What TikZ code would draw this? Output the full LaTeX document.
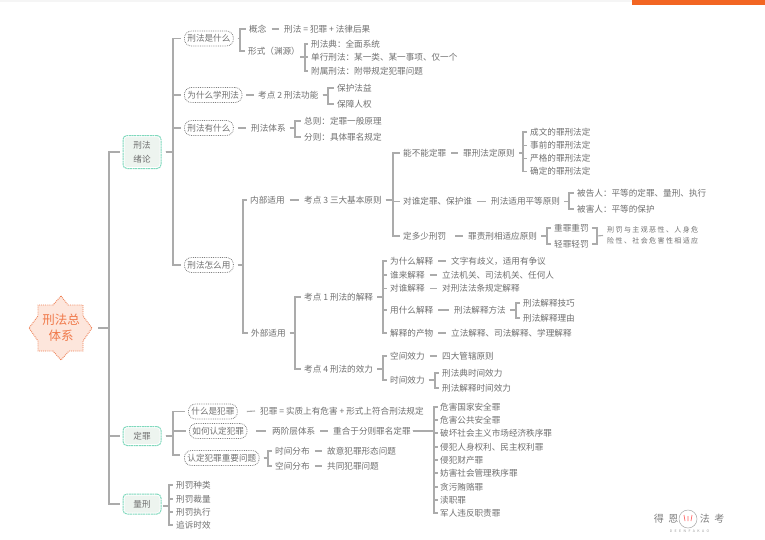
\documentclass[tikz,border=0pt]{standalone}
\usepackage{fontspec}
\setmainfont{Noto Sans CJK SC}
\definecolor{txt}{HTML}{707070}
\definecolor{conn}{HTML}{ABABAB}
\definecolor{rootfill}{HTML}{FDE6DC}
\definecolor{rootline}{HTML}{EE8055}
\definecolor{roottxt}{HTML}{F0794A}
\definecolor{gline}{HTML}{7FD8BC}
\definecolor{gfill}{HTML}{EDF4EF}
\definecolor{topbar}{HTML}{F26522}
\tikzset{
 lbl/.style={anchor=west,inner sep=0pt,text=txt,font=\fontsize{8.6}{10}\selectfont,text height=7.4pt,text depth=1.2pt},
 pill/.style={lbl,draw=black!50,densely dotted,line width=.8pt,rounded corners=7pt,inner xsep=3pt,minimum height=15pt,text height=7.4pt},
 gbox/.style={anchor=center,inner sep=0pt,align=center,text=txt,font=\fontsize{8.6}{14}\selectfont,draw=gline,line width=1pt,dash pattern=on 2pt off .6pt,rounded corners=4pt,preaction={fill=gfill},preaction={draw=white,solid,line width=3pt},minimum width=38pt},
 rootlbl/.style={anchor=center,inner sep=0pt,align=center,text=roottxt,font=\fontsize{12.5}{16}\selectfont},
 link/.style={draw=conn,line width=1.1pt},
}
\newcommand{\tn}[4]{\node[lbl] (#1) at (#2,#3) {#4};}
\newcommand{\pn}[4]{\node[pill] (#1) at (#2,#3) {#4};}
% parent, child, spine x
\newcommand{\brk}[3]{\draw[link] ([xshift=4pt]#1.east) -- (#3,0 |- #1.east) |- ([xshift=-3pt]#2.west);}
\newcommand{\dsh}[2]{\draw[link] ([xshift=5pt]#1.east) -- ([xshift=-5pt]#2.west);}
\begin{document}
\begin{tikzpicture}[x=1pt,y=-1pt]
\useasboundingbox (0,0) rectangle (765,539);
\fill[white] (0,0) rectangle (765,539);
\fill[black!4] (0,0) rectangle (632,2);
\fill[topbar] (632,0) rectangle (765,5);
% root
\fill[rootfill] (61,296)--(68,305)--(83,305)--(83,316)--(92,328)--(83,341)--(83,351)--(69,351)--(61,360)--(53,351)--(38,351)--(38,341)--(29,328)--(38,316)--(38,305)--(53,305)--cycle;
\draw[rootline,densely dotted,line width=.9pt] (61,296)--(68,305)--(83,305)--(83,316)--(92,328)--(83,341)--(83,351)--(69,351)--(61,360)--(53,351)--(38,351)--(38,341)--(29,328)--(38,316)--(38,305)--(53,305)--cycle;
\node[rootlbl] (root) at (61,328) {刑法总\\体系};
\coordinate (rootR) at (94,328);
% level 1
\node[gbox,minimum height=33pt] (xl) at (142,152) {刑法\\绪论};
\node[gbox,minimum height=19pt] (dz) at (142,436) {定罪};
\node[gbox,minimum height=20pt] (lx) at (142,504) {量刑};
\brk{rootR}{xl}{109}\brk{rootR}{dz}{109}\brk{rootR}{lx}{109}
% branch A
\pn{a1}{184}{38.5}{刑法是什么}
\pn{a2}{184}{95}{为什么学刑法}
\pn{a3}{184}{128}{刑法有什么}
\pn{a4}{184}{265}{刑法怎么用}
\brk{xl}{a1}{173}\brk{xl}{a2}{173}\brk{xl}{a3}{173}\brk{xl}{a4}{173}
% a1
\tn{gn}{249}{29}{概念}
\tn{gnv}{284}{29}{刑法 = 犯罪 + 法律后果}
\dsh{gn}{gnv}
\tn{xs}{248}{51}{形式（渊源）}
\brk{a1}{gn}{240}\brk{a1}{xs}{240}
\coordinate (xsR) at (296,57);
\tn{xs1}{311}{44}{刑法典：全面系统}
\tn{xs2}{311}{57}{单行刑法：某一类、某一事项、仅一个}
\tn{xs3}{311}{71}{附属刑法：附带规定犯罪问题}
\brk{xsR}{xs1}{305}\brk{xsR}{xs2}{305}\brk{xsR}{xs3}{305}
% a2
\tn{kd2}{258}{95}{考点 2 刑法功能}
\draw[link] ([xshift=4pt]a2.east) -- ([xshift=-4pt]kd2.west);
\tn{bh1}{337}{88}{保护法益}
\tn{bh2}{337}{104}{保障人权}
\brk{kd2}{bh1}{328}\brk{kd2}{bh2}{328}
% a3
\tn{tx}{251}{128}{刑法体系}
\draw[link] ([xshift=4pt]a3.east) -- ([xshift=-5pt]tx.west);
\tn{zz}{304}{121}{总则：定罪一般原理}
\tn{fz}{304}{137}{分则：具体罪名规定}
\brk{tx}{zz}{295}\brk{tx}{fz}{295}
% a4
\tn{nb}{250}{200}{内部适用}
\tn{wb}{251}{333}{外部适用}
\brk{a4}{nb}{243}\brk{a4}{wb}{243}
\tn{kd3}{304}{200}{考点 3 三大基本原则}
\dsh{nb}{kd3}
\tn{n1}{403}{153}{能不能定罪}
\tn{n2}{403}{201.5}{对谁定罪、保护谁}
\tn{n3}{403}{236}{定多少刑罚}
\brk{kd3}{n1}{393}\brk{kd3}{n2}{393}\brk{kd3}{n3}{393}
\tn{n1a}{463}{153}{罪刑法定原则}
\dsh{n1}{n1a}
\tn{c1}{530}{132}{成文的罪刑法定}
\tn{c2}{530}{145.5}{事前的罪刑法定}
\tn{c3}{530}{158.5}{严格的罪刑法定}
\tn{c4}{530}{171.5}{确定的罪刑法定}
\brk{n1a}{c1}{523}\brk{n1a}{c2}{523}\brk{n1a}{c3}{523}\brk{n1a}{c4}{523}
\tn{n2a}{491}{201.5}{刑法适用平等原则}
\dsh{n2}{n2a}
\tn{p1}{577}{193}{被告人：平等的定罪、量刑、执行}
\tn{p2}{577}{209}{被害人：平等的保护}
\brk{n2a}{p1}{569}\brk{n2a}{p2}{569}
\tn{n3a}{468}{236}{罪责刑相适应原则}
\draw[link] ([xshift=9pt]n3.east) -- ([xshift=-5pt]n3a.west);
\tn{z1}{554}{228}{重罪重罚}
\tn{z2}{554}{244}{轻罪轻罚}
\brk{n3a}{z1}{547}\brk{n3a}{z2}{547}
\node[lbl,font=\fontsize{7}{11}\selectfont\addfontfeature{LetterSpace=20},align=left,text height=,text depth=] (zn) at (607,235.5) {刑罚与主观恶性、人身危\\险性、社会危害性相适应};
\coordinate (zj) at (597,236);
\draw[link] ([xshift=3pt]z1.east) -| (zj) |- ([xshift=3pt]z2.east);
\draw[link] (zj) -- ([xshift=-4pt]zn.west);
% external
\tn{kd1}{304}{297}{考点 1 刑法的解释}
\tn{kd4}{304}{369}{考点 4 刑法的效力}
\brk{wb}{kd1}{295}\brk{wb}{kd4}{295}
\tn{j1}{390}{261}{为什么解释}
\tn{j2}{390}{275}{谁来解释}
\tn{j3}{390}{288.5}{对谁解释}
\tn{j4}{390}{310}{用什么解释}
\tn{j5}{390}{333}{解释的产物}
\brk{kd1}{j1}{383}\brk{kd1}{j2}{383}\brk{kd1}{j3}{383}\brk{kd1}{j4}{383}\brk{kd1}{j5}{383}
\tn{j1a}{451}{261}{文字有歧义，适用有争议}\dsh{j1}{j1a}
\tn{j2a}{442}{275}{立法机关、司法机关、任何人}\dsh{j2}{j2a}
\tn{j3a}{442}{288.5}{对刑法法条规定解释}\dsh{j3}{j3a}
\tn{j4a}{454}{310}{刑法解释方法}\dsh{j4}{j4a}
\tn{j5a}{451}{333}{立法解释、司法解释、学理解释}\dsh{j5}{j5a}
\tn{m1}{523}{303}{刑法解释技巧}
\tn{m2}{523}{318}{刑法解释理由}
\brk{j4a}{m1}{516}\brk{j4a}{m2}{516}
\tn{x1}{390}{356}{空间效力}
\tn{x2}{390}{380}{时间效力}
\brk{kd4}{x1}{383}\brk{kd4}{x2}{383}
\tn{x1a}{442}{356}{四大管辖原则}\dsh{x1}{x1a}
\tn{t1}{442}{373}{刑法典时间效力}
\tn{t2}{442}{388}{刑法解释时间效力}
\brk{x2}{t1}{435}\brk{x2}{t2}{435}
% branch B
\pn{b1}{188}{411.5}{什么是犯罪}
\pn{b2}{189}{431}{如何认定犯罪}
\pn{b3}{184}{458}{认定犯罪重要问题}
\brk{dz}{b1}{173}\brk{dz}{b2}{173}
\draw[link] ([xshift=4pt]dz.east) -- (173,0 |- dz.east) |- ([xshift=-4pt,yshift=3pt]b3.west);
\tn{b1a}{260}{411}{犯罪 = 实质上有危害 + 形式上符合刑法规定}
\draw[link] ([xshift=9pt]b1.east) -- ([xshift=-5pt]b1a.west);
\tn{b2a}{272}{431}{两阶层体系}
\draw[link] ([xshift=9pt]b2.east) -- ([xshift=-6pt]b2a.west);
\tn{b2b}{333}{431}{重合于分则罪名定罪}\dsh{b2a}{b2b}
\tn{k1}{440}{407}{危害国家安全罪}
\tn{k2}{440}{420}{危害公共安全罪}
\tn{k3}{440}{433}{破坏社会主义市场经济秩序罪}
\tn{k4}{440}{447}{侵犯人身权利、民主权利罪}
\tn{k5}{440}{460}{侵犯财产罪}
\tn{k6}{440}{473}{妨害社会管理秩序罪}
\tn{k7}{440}{487}{贪污贿赂罪}
\tn{k8}{440}{500}{渎职罪}
\tn{k9}{440}{513}{军人违反职责罪}
\foreach \k in {k1,k2,k3,k4,k5,k6,k7,k8,k9}{\draw[link] ([xshift=2pt]b2b.east) -- (434,0 |- b2b.east) |- ([xshift=-2pt]\k.west);}
\tn{f1}{275}{451}{时间分布}
\tn{f2}{275}{466}{空间分布}
\brk{b3}{f1}{268}\brk{b3}{f2}{268}
\tn{f1a}{327}{451}{故意犯罪形态问题}\dsh{f1}{f1a}
\tn{f2a}{327}{466}{共同犯罪问题}\dsh{f2}{f2a}
% branch C
\coordinate (lxR) at (159,506);
\tn{l1}{176}{485}{刑罚种类}
\tn{l2}{176}{499}{刑罚裁量}
\tn{l3}{176}{512}{刑罚执行}
\tn{l4}{176}{525}{追诉时效}
\brk{lxR}{l1}{169}\brk{lxR}{l2}{169}\brk{lxR}{l3}{169}\brk{lxR}{l4}{169}
% watermark
\node[anchor=center,inner sep=0pt,text=black!50,font=\fontsize{10}{12}\selectfont\addfontfeature{LetterSpace=45}] (wl) at (666,519) {得恩};
\node[anchor=center,inner sep=0pt,text=black!50,font=\fontsize{10}{12}\selectfont\addfontfeature{LetterSpace=45}] (wr) at (712,519) {法考};
\node[circle,draw=black!35,line width=.5pt,minimum size=18pt,inner sep=0pt] (wc) at (688,519) {};
\draw[red!60,line width=.7pt] (684,515)--(685,521) (688,516)--(688,521) (692,515)--(691,521);
\node[anchor=center,inner sep=0pt,text=black!40,font=\fontsize{3.5}{4}\selectfont\addfontfeature{LetterSpace=70}] (we) at (689.5,531) {DEENFAKAO};
\end{tikzpicture}
\end{document}
